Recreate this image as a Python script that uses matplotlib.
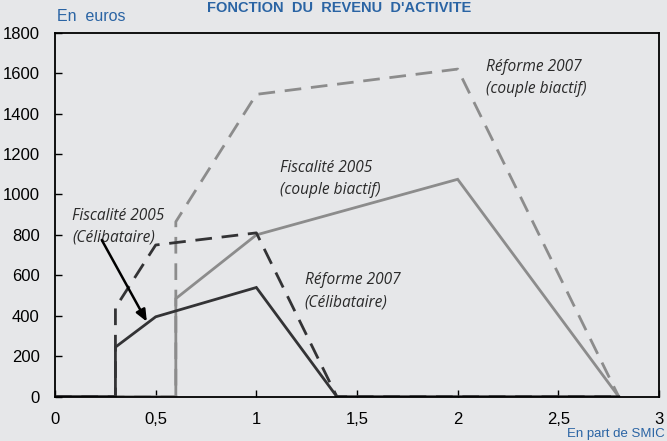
import matplotlib
matplotlib.use("Agg")
import matplotlib.pyplot as plt

# revenu d'activité en part de SMIC / gain en euros
x_celib = [0, 0.3, 0.3, 0.5, 1.0, 1.4, 2.8]
y_fisc2005_celib = [0, 0, 245, 395, 540, 0, 0]
y_ref2007_celib = [0, 0, 440, 750, 810, 0, 0]

x_couple = [0, 0.6, 0.6, 1.0, 2.0, 2.8]
y_fisc2005_couple = [0, 0, 485, 800, 1075, 0]
y_ref2007_couple = [0, 0, 865, 1495, 1620, 0]

xticks = [0, 0.5, 1, 1.5, 2, 2.5, 3]
xtick_labels = ["0", "0,5", "1", "1,5", "2", "2,5", "3"]
yticks = list(range(0, 1801, 200))

bg = "#e6e7e9"
dark = "#333335"
grey = "#8c8c8c"
blue = "#2a64a4"

fig = plt.figure(figsize=(6.67, 4.41), dpi=100, facecolor=bg)
ax = fig.add_axes([0.0825, 0.1005, 0.9055, 0.8254], facecolor=bg)

lw = 2.0
ax.plot(x_couple, y_fisc2005_couple, color=grey, lw=lw, solid_joinstyle="miter")
ax.plot(x_couple, y_ref2007_couple, color=grey, lw=lw, dashes=(6, 3.5))
ax.plot(x_celib, y_fisc2005_celib, color=dark, lw=lw, solid_joinstyle="miter")
ax.plot(x_celib, y_ref2007_celib, color=dark, lw=lw, dashes=(6, 3.5))

ax.set_xlim(0, 3)
ax.set_ylim(0, 1800)
ax.set_xticks(xticks)
ax.set_xticklabels(xtick_labels)
ax.set_yticks(yticks)
ax.tick_params(direction="in", length=5, width=1, labelsize=12, colors="black")
ax.tick_params(axis="x", pad=11)
ax.tick_params(axis="y", pad=11)
for lab in ax.get_xticklabels() + ax.get_yticklabels():
    lab.set_fontfamily("Liberation Sans")
for sp in ax.spines.values():
    sp.set_linewidth(1.3)
    sp.set_color("black")

# annotations
tfont = dict(fontsize=11.2, style="italic", family="Open Sans", color="#2a2a2a",
             linespacing=1.5, va="top", ha="left")
ax.text(0.085, 935, "Fiscalité 2005\n(Célibataire)", **tfont)
ax.text(1.115, 1170, "Fiscalité 2005\n(couple biactif)", **tfont)
ax.text(2.14, 1670, "Réforme 2007\n(couple biactif)", **tfont)
ax.text(1.24, 615, "Réforme 2007\n(Célibataire)", **tfont)
ax.annotate("", xy=(0.456, 371), xytext=(0.232, 775),
            arrowprops=dict(arrowstyle="-|>,head_length=0.7,head_width=0.3",
                            color="black", lw=1.8, shrinkA=0, shrinkB=0))

fig.text(0.086, 0.962, "En  euros", color=blue, fontsize=11.5,
         family="Liberation Sans", va="center", ha="left")
fig.text(0.997, 0.016, "En part de SMIC", color=blue, fontsize=9.5,
         family="Liberation Sans", va="center", ha="right")
fig.text(0.508, 0.997, "FONCTION  DU  REVENU  D'ACTIVITE", color=blue, fontsize=10.5,
         fontweight="bold", family="Liberation Sans", va="top", ha="center")

fig.savefig("out.png", dpi=100, facecolor=bg)
